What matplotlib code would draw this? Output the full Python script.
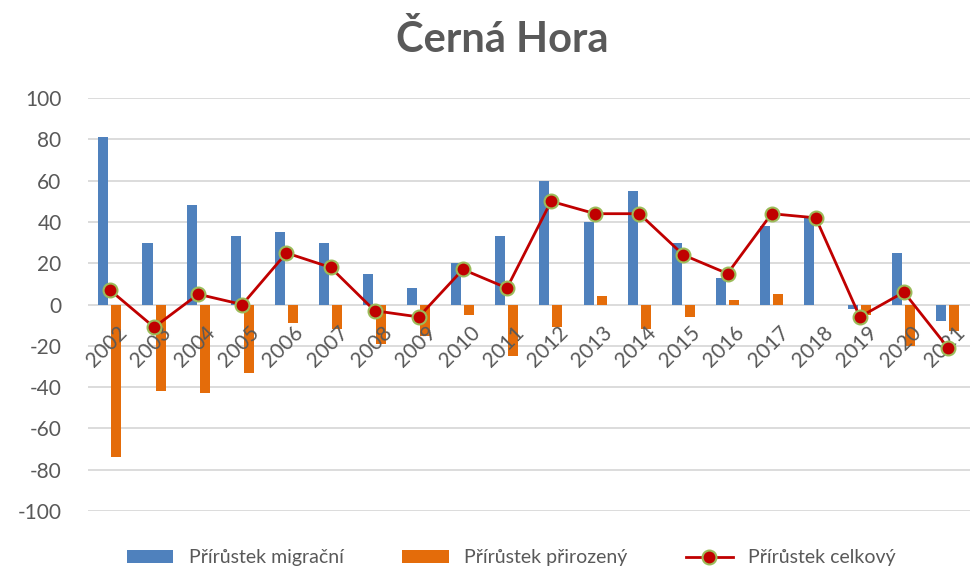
import numpy as np
import matplotlib.pyplot as plt

plt.rcParams['font.family'] = ['Lato', 'DejaVu Sans']
plt.rcParams['axes.unicode_minus'] = False

roky = [str(r) for r in range(2002, 2022)]
migracni = [81, 30, 48, 33, 35, 30, 15, 8, 20, 33, 60, 40, 55, 30, 13, 38, 42, -2, 25, -8]
prirozeny = [-74, -42, -43, -33, -9, -12, -19, -15, -5, -25, -11, 4, -12, -6, 2, 5, 0, -5, -20, -13]
celkovy = [7, -11, 5, 0, 25, 18, -3, -6, 17, 8, 50, 44, 44, 24, 15, 44, 42, -6, 6, -21]

seda = '#595959'
fig = plt.figure(figsize=(9.74, 5.77), dpi=100)
ax = fig.add_axes([0.0903, 0.1144, 0.9057, 0.7156])

x = np.arange(len(roky))
w = 0.227
b1 = ax.bar(x - 0.15, migracni, w, color='#4F81BD', label='Přírůstek migrační', zorder=2)
b2 = ax.bar(x + 0.145, prirozeny, w, color='#E46C0A', label='Přírůstek přirozený', zorder=2)
l1, = ax.plot(x, celkovy, color='#C00000', lw=2, marker='o', ms=10, mfc='#C00000',
              mec='#9BBB59', mew=1.5, label='Přírůstek celkový', zorder=4)

ax.set_xlim(-0.5, len(roky) - 0.5)
ax.set_ylim(-100, 100)
ax.set_yticks(range(-100, 101, 20))
ax.grid(axis='y', color='#d9d9d9', lw=1.3, zorder=0)
ax.set_axisbelow(True)

for s in ax.spines.values():
    s.set_visible(False)
ax.set_xticks([])
ax.tick_params(axis='y', length=0, pad=19, labelsize=15, labelcolor=seda)

# popisky roku na nulove ose, nad sloupci
for i, r in enumerate(roky):
    t = ax.annotate(r, (i, 0), xytext=(5, -13), textcoords='offset points',
                    rotation=45, ha='right', va='top', rotation_mode='anchor',
                    fontsize=15, color=seda)
    t.set_zorder(3)

fig.suptitle('Černá Hora', x=0.516, y=0.965, fontsize=30, fontweight='bold', color=seda)
fig.legend(handles=[b1, b2, l1], loc='lower center', bbox_to_anchor=(0.525, -0.012), ncol=3,
           frameon=False, fontsize=14, labelcolor=seda, handlelength=2.4, columnspacing=3)

fig.savefig('out.png', dpi=100)
